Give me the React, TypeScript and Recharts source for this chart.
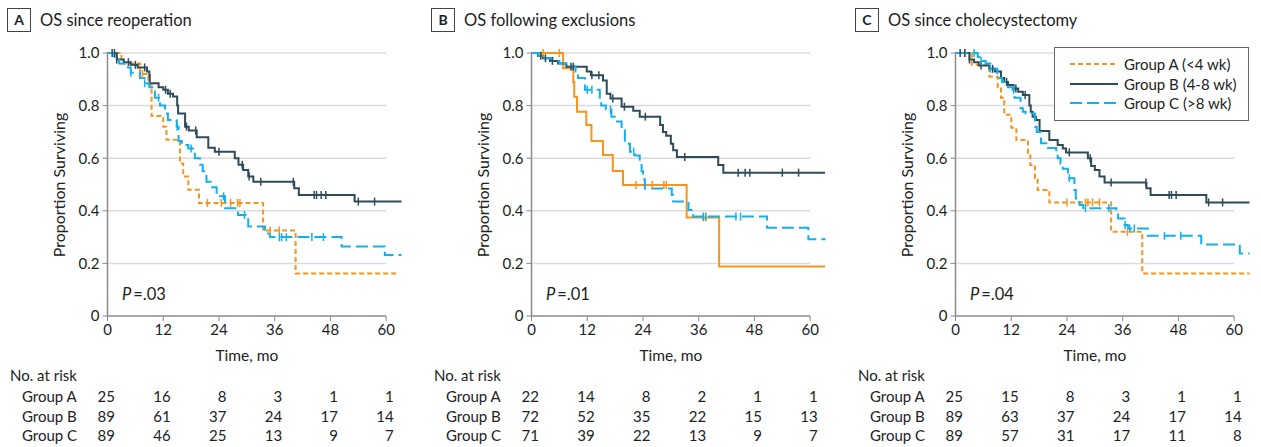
import React from 'react'
import { ComposedChart, Line, Scatter, XAxis, YAxis, ReferenceLine } from 'recharts'

type Pt = [number, number]

const TICKS_X = [0, 12, 24, 36, 48, 60]
const TICKS_Y = [0, 0.2, 0.4, 0.6, 0.8, 1]
const GROUPS = ['Group A', 'Group B', 'Group C']
const LEGEND_LABELS = ['Group A (<4 wk)', 'Group B (4-8 wk)', 'Group C (>8 wk)']
const TITLES = ['OS since reoperation', 'OS following exclusions', 'OS since cholecystectomy']
const LETTERS = ['A', 'B', 'C']
const P_VALUES = ['.03', '.01', '.04']

const COLOR_A = '#F7941D'
const COLOR_B = '#2F4B58'
const COLOR_C = '#12B0EC'
const FONT = 'Lato, "Open Sans", sans-serif'

// Panel A: since reoperation
const aGroupA: Pt[] = [[0, 1], [3.0, 0.96], [7.0, 0.92], [8.8, 0.88], [9.5, 0.76], [12.0, 0.72], [12.7, 0.67], [15.6, 0.58], [16.3, 0.53], [17.4, 0.48], [19.7, 0.43], [33.5, 0.325], [40.5, 0.162], [62.6, 0.162]]
const aGroupB: Pt[] = [[0, 1], [2.0, 0.975], [3.5, 0.965], [5.0, 0.955], [6.5, 0.945], [8.5, 0.93], [9.0, 0.915], [9.1, 0.885], [11.0, 0.87], [12.0, 0.86], [13.0, 0.845], [14.1, 0.835], [15.0, 0.8], [15.2, 0.77], [16.7, 0.72], [17.5, 0.705], [19.2, 0.68], [21.7, 0.64], [23.1, 0.625], [27.4, 0.6], [28.2, 0.575], [29.2, 0.555], [30.3, 0.53], [31.4, 0.51], [40.2, 0.486], [41.2, 0.46], [53.2, 0.435], [63.3, 0.435]]
const aGroupC: Pt[] = [[0, 1], [1.5, 0.975], [2.5, 0.96], [4.0, 0.945], [5.0, 0.925], [7.0, 0.905], [8.0, 0.885], [9.0, 0.87], [10.2, 0.83], [11.3, 0.8], [12.4, 0.77], [13.0, 0.745], [14.9, 0.72], [15.3, 0.665], [16.0, 0.65], [17.4, 0.637], [18.8, 0.6], [19.9, 0.575], [20.5, 0.55], [21.3, 0.51], [22.5, 0.49], [23.5, 0.455], [25.3, 0.41], [28.1, 0.384], [30.3, 0.34], [33.9, 0.314], [35.0, 0.3], [50.4, 0.264], [59.7, 0.232], [63.3, 0.232]]
const aCensorA = [7.5, 21.5, 24.5, 26.5, 28, 28.5, 35, 37]
const aCensorB = [1, 1.5, 2, 4.5, 6, 8, 12.5, 13.5, 17, 19, 24, 29, 30.5, 33, 40, 44.5, 45, 46, 47, 54, 57.5]
const aCensorC = [5, 8, 11, 15, 18, 25, 29.5, 37, 37.5, 38.5, 44, 46.5]
const aRiskA = [25, 16, 8, 3, 1, 1]
const aRiskB = [89, 61, 37, 24, 17, 14]
const aRiskC = [89, 46, 25, 13, 9, 7]

// Panel B: following exclusions
const bGroupA: Pt[] = [[0, 1], [6.8, 0.942], [9.0, 0.89], [9.2, 0.834], [9.8, 0.777], [11.8, 0.726], [12.9, 0.665], [15.4, 0.612], [17.5, 0.551], [19.7, 0.498], [33.4, 0.375], [40.4, 0.188], [63.2, 0.188]]
const bGroupB: Pt[] = [[0, 1], [1.4, 0.99], [2.5, 0.98], [4.0, 0.97], [5.7, 0.96], [7.5, 0.948], [11.9, 0.93], [12.8, 0.915], [15.4, 0.895], [16.2, 0.845], [17.0, 0.827], [19.4, 0.796], [21.9, 0.78], [23.3, 0.758], [27.7, 0.726], [28.3, 0.7], [29.0, 0.685], [30.0, 0.655], [30.5, 0.63], [31.3, 0.605], [40.2, 0.574], [41.3, 0.545], [63.2, 0.545]]
const bGroupC: Pt[] = [[0, 1], [1.5, 0.99], [2.5, 0.98], [4.5, 0.97], [6.0, 0.96], [8.0, 0.95], [9.5, 0.93], [10.0, 0.905], [11.5, 0.86], [14.7, 0.83], [15.0, 0.8], [16.0, 0.785], [17.2, 0.758], [17.9, 0.74], [19.4, 0.705], [20.1, 0.655], [21.2, 0.625], [22.3, 0.61], [23.3, 0.585], [23.7, 0.55], [24.0, 0.52], [24.4, 0.485], [30.2, 0.46], [30.5, 0.435], [33.8, 0.403], [34.8, 0.378], [50.7, 0.336], [59.6, 0.292], [63.3, 0.292]]
const bCensorA = [2.5, 6, 22.5, 26, 28.5, 29, 37, 37.5]
const bCensorB = [2, 3, 4.5, 8.5, 9, 13, 14.5, 17.5, 20, 24.5, 33, 44.5, 46, 47, 54, 57.5]
const bCensorC = [12, 13, 17, 22, 37, 37.5, 44, 45]
const bRiskA = [22, 14, 8, 2, 1, 1]
const bRiskB = [72, 52, 35, 22, 15, 13]
const bRiskC = [71, 39, 22, 13, 9, 7]

// Panel C: since cholecystectomy
const cGroupA: Pt[] = [[0, 1], [3.5, 0.955], [7.3, 0.91], [9.1, 0.87], [9.8, 0.83], [10.5, 0.765], [12.0, 0.716], [13.1, 0.669], [15.6, 0.62], [16.1, 0.574], [17.1, 0.524], [17.7, 0.479], [20.2, 0.432], [33.5, 0.32], [40.2, 0.162], [63.3, 0.162]]
const cGroupB: Pt[] = [[0, 1], [3.0, 0.975], [4.0, 0.965], [5.0, 0.952], [7.3, 0.94], [8.5, 0.93], [9.8, 0.905], [10.5, 0.89], [11.3, 0.878], [12.5, 0.865], [13.5, 0.853], [14.5, 0.84], [15.9, 0.8], [16.2, 0.777], [16.6, 0.758], [17.3, 0.745], [18.1, 0.703], [20.2, 0.669], [22.0, 0.65], [23.1, 0.637], [23.8, 0.622], [28.5, 0.6], [29.2, 0.57], [30.0, 0.555], [31.0, 0.53], [32.1, 0.508], [41.1, 0.486], [42.0, 0.46], [54.0, 0.432], [63.3, 0.432]]
const cGroupC: Pt[] = [[0, 1], [4.8, 0.985], [5.5, 0.97], [6.5, 0.96], [7.5, 0.94], [9.0, 0.905], [10.0, 0.89], [11.3, 0.87], [12.3, 0.86], [12.7, 0.83], [14.0, 0.79], [14.5, 0.777], [15.1, 0.77], [17.1, 0.72], [17.5, 0.7], [18.4, 0.657], [19.9, 0.639], [21.7, 0.62], [22.0, 0.6], [22.6, 0.58], [23.1, 0.56], [24.2, 0.524], [25.6, 0.479], [25.9, 0.447], [26.7, 0.422], [27.5, 0.41], [34.6, 0.4], [35.0, 0.371], [36.4, 0.346], [37.1, 0.333], [41.4, 0.305], [52.9, 0.272], [61.2, 0.238], [63.3, 0.238]]
const cCensorA = [2, 24, 28, 28.5, 29.5, 31, 37]
const cCensorB = [1, 2, 3, 5.5, 8, 11, 13, 15, 24.5, 29, 33.5, 41, 46, 46.5, 47.5, 54.5, 57.5]
const cCensorC = [4, 5.5, 7.5, 12.5, 24.5, 28, 33, 36.5, 37.5, 38.5, 45, 48.5]
const cRiskA = [25, 15, 8, 3, 1, 1]
const cRiskB = [89, 63, 37, 24, 17, 14]
const cRiskC = [89, 57, 31, 17, 11, 8]

const toRows = (pts: Pt[]) => pts.map(([t, s]) => ({ t, s }))

// survival value of a step curve at time t
const stepAt = (pts: Pt[], t: number) => {
  let s = 1
  for (const [pt, ps] of pts) if (pt <= t) s = ps
  return s
}
const censorRows = (pts: Pt[], times: number[]) => times.map((t) => ({ t, s: stepAt(pts, t) }))

const PANELS = [
  { curves: [aGroupA, aGroupB, aGroupC], censors: [aCensorA, aCensorB, aCensorC], risk: [aRiskA, aRiskB, aRiskC], solidA: false },
  { curves: [bGroupA, bGroupB, bGroupC], censors: [bCensorA, bCensorB, bCensorC], risk: [bRiskA, bRiskB, bRiskC], solidA: true },
  { curves: [cGroupA, cGroupB, cGroupC], censors: [cCensorA, cCensorB, cCensorC], risk: [cRiskA, cRiskB, cRiskC], solidA: false },
]

const PANEL_W = 424
const X0 = 107.5
const PX_PER_MO = 4.645
const DOMAIN_MAX = 63.5

const CensorTick = (color: string) => (props: any) => (
  <line x1={props.cx} x2={props.cx} y1={props.cy - 4} y2={props.cy + 4} stroke={color} strokeWidth={1.5} />
)

function Panel({ idx }: { idx: number }) {
  const p = PANELS[idx]
  const colors = [COLOR_A, COLOR_B, COLOR_C]
  const dashes = [p.solidA ? undefined : '5 3', undefined, '12 5']
  const plotW = DOMAIN_MAX * PX_PER_MO
  const right = 420 - X0 - plotW

  return (
    <div style={{ position: 'absolute', left: idx * PANEL_W, top: 0, width: PANEL_W, height: 447 }}>
      <div style={{ position: 'absolute', left: 7, top: 8, width: 22, height: 22, border: '1px solid #444', fontWeight: 700, fontSize: 14, lineHeight: '22px', textAlign: 'center', color: '#222' }}>
        {LETTERS[idx]}
      </div>
      <div style={{ position: 'absolute', left: 40, top: 8, fontSize: 16.5, lineHeight: '24px', color: '#222', whiteSpace: 'nowrap' }}>
        {TITLES[idx]}
      </div>
      <div style={{ position: 'absolute', left: 58, top: 185, transform: 'translate(-50%, -50%) rotate(-90deg)', fontSize: 16, color: '#222', whiteSpace: 'nowrap' }}>
        Proportion Surviving
      </div>
      <ComposedChart width={420} height={360} margin={{ top: 53, right, bottom: 14, left: X0 - 60 }}>
        {[0.2, 0.4, 0.6, 0.8, 1].map((v) => (
          <ReferenceLine key={v} segment={[{ x: 0, y: v }, { x: 60, y: v }]} stroke="#dcdcdc" strokeWidth={1.5} />
        ))}
        <ReferenceLine segment={[{ x: 0, y: 0 }, { x: 60, y: 0 }]} stroke="#8a8a8a" strokeWidth={1.5} />
        <XAxis
          type="number"
          dataKey="t"
          domain={[0, DOMAIN_MAX]}
          ticks={TICKS_X}
          axisLine={false}
          tickLine={{ stroke: '#8a8a8a' }}
          tickSize={5}
          tickMargin={3}
          height={30}
          tick={{ fontSize: 15, fill: '#222' }}
          interval={0}
        />
        <YAxis
          type="number"
          domain={[0, 1]}
          ticks={TICKS_Y}
          width={60}
          axisLine={{ stroke: '#8a8a8a', strokeWidth: 1.5 }}
          tickLine={{ stroke: '#8a8a8a' }}
          tickSize={5}
          tickMargin={3}
          tick={{ fontSize: 15, fill: '#222' }}
          tickFormatter={(v: number) => (v === 0 ? '0' : v.toFixed(1))}
          interval={0}
        />
        {p.curves.map((c, i) => (
          <Line
            key={'l' + i}
            data={toRows(c)}
            dataKey="s"
            type="stepAfter"
            stroke={colors[i]}
            strokeWidth={2}
            strokeDasharray={dashes[i]}
            dot={false}
            activeDot={false}
            isAnimationActive={false}
          />
        ))}
        {p.curves.map((c, i) => (
          <Scatter
            key={'s' + i}
            data={censorRows(c, p.censors[i])}
            dataKey="s"
            shape={CensorTick(colors[i])}
            isAnimationActive={false}
          />
        ))}
      </ComposedChart>
      <div style={{ position: 'absolute', left: 122, top: 284, fontSize: 16.5, color: '#222', whiteSpace: 'nowrap' }}>
        <i style={{ marginRight: 2 }}>P</i>=.{P_VALUES[idx].slice(1)}
      </div>
      <div style={{ position: 'absolute', left: X0 + 30 * PX_PER_MO, top: 346, transform: 'translateX(-50%)', fontSize: 15.5, color: '#222', whiteSpace: 'nowrap' }}>
        Time, mo
      </div>
      <div style={{ position: 'absolute', left: 10, top: 366, fontSize: 15, color: '#222', whiteSpace: 'nowrap' }}>No. at risk</div>
      {GROUPS.map((g, r) => (
        <React.Fragment key={g}>
          <div style={{ position: 'absolute', left: 22, top: 387 + r * 19.5, fontSize: 15, color: '#222', whiteSpace: 'nowrap' }}>{g}</div>
          {p.risk[r].map((n, k) => (
            <div
              key={k}
              style={{ position: 'absolute', left: X0 + TICKS_X[k] * PX_PER_MO + 7.5, top: 387 + r * 19.5, transform: 'translateX(-100%)', fontSize: 15, color: '#222' }}
            >
              {n}
            </div>
          ))}
        </React.Fragment>
      ))}
      {idx === 2 && (
        <div style={{ position: 'absolute', left: 206, top: 47, width: 193, height: 72, border: '1px solid #666', background: '#fff' }}>
          {LEGEND_LABELS.map((l, i) => (
            <div key={l} style={{ position: 'absolute', left: 15, top: 6 + i * 19.5, height: 20, display: 'flex', alignItems: 'center', whiteSpace: 'nowrap' }}>
              <svg width={48} height={10}>
                <line x1={0} x2={48} y1={5} y2={5} stroke={colors[i]} strokeWidth={2} strokeDasharray={dashes[i]} />
              </svg>
              <span style={{ marginLeft: 6, fontSize: 15, color: '#222' }}>{l}</span>
            </div>
          ))}
        </div>
      )}
    </div>
  )
}

export default function App() {
  return (
    <div style={{ position: 'fixed', left: 0, top: 0, width: 1261, height: 447, background: '#fff', fontFamily: FONT }}>
      {[0, 1, 2].map((i) => (
        <Panel key={i} idx={i} />
      ))}
    </div>
  )
}
